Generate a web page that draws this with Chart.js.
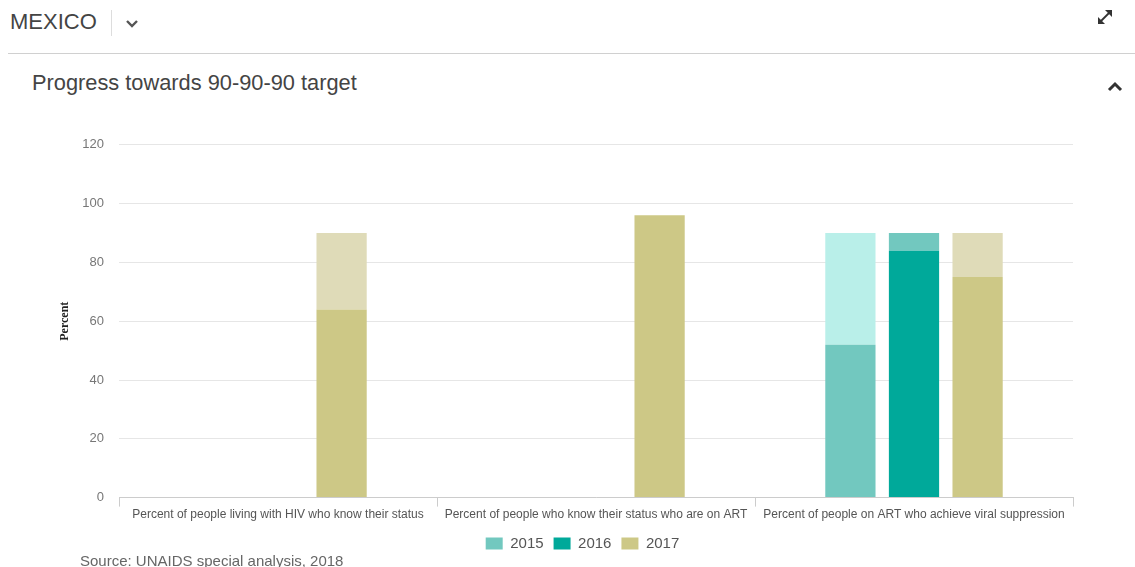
<!DOCTYPE html>
<html>
<head>
<meta charset="utf-8">
<script src="https://cdn.jsdelivr.net/npm/chart.js@4"></script>
<style>
  body { margin: 0; background: #fff; font-family: "Liberation Sans", Arial, sans-serif; width: 1135px; height: 567px; overflow: hidden; position: relative; }
  #country { position: absolute; left: 10px; top: 9px; font-size: 22px; color: #444; }
  #sep { position: absolute; left: 111px; top: 10px; width: 1px; height: 26px; background: #ddd; }
  #chev { position: absolute; left: 124px; top: 12px; }
  #hr { position: absolute; left: 8px; right: 0; top: 53px; height: 1px; background: #d0d0d0; }
  #title { position: absolute; left: 32px; top: 70px; font-size: 21.8px; color: #444; }
  #expand { position: absolute; left: 1095px; top: 7px; }
  #caret { position: absolute; left: 1106px; top: 79px; }
  #wrap { position: absolute; left: 0; top: 122px; width: 1110px; height: 440px; }
  #source { position: absolute; left: 80px; top: 552px; font-size: 15px; color: #666; }
</style>
</head>
<body>
<div id="country">MEXICO</div>
<div id="sep"></div>
<svg id="chev" width="16" height="20" viewBox="0 0 16 20"><path d="M3 9 L8 14 L13 9" fill="none" stroke="#555" stroke-width="2.4"/></svg>
<div id="hr"></div>
<div id="title">Progress towards 90-90-90 target</div>
<svg id="expand" width="20" height="20" viewBox="0 0 20 20">
  <path d="M6 14 L14 6" stroke="#333" stroke-width="1.8"/>
  <path d="M10 3 L17 3 L17 10 Z" fill="#333"/>
  <path d="M3 10 L3 17 L10 17 Z" fill="#333"/>
</svg>
<svg id="caret" width="18" height="16" viewBox="0 0 18 16"><path d="M3 11 L9 5 L15 11" fill="none" stroke="#333" stroke-width="3"/></svg>
<div id="wrap"><canvas id="chart"></canvas></div>
<div id="source">Source: UNAIDS special analysis, 2018</div>
<script>
const categories = [
  'Percent of people living with HIV who know their status',
  'Percent of people who know their status who are on ART',
  'Percent of people on ART who achieve viral suppression'
];
const years = ['2015', '2016', '2017'];
// achieved value per year, and remaining gap up to the 90 target
const values2015 = [null, null, 52];
const gap2015 = [null, null, 38];
const values2016 = [null, null, 84];
const gap2016 = [null, null, 6];
const values2017 = [64, 96, 75];
const gap2017 = [26, null, 15];

const mainColors = ['#72c8bf', '#00a99a', '#cdc886'];
const gapColors = ['#b9efe9', '#72c8bf', '#dfdbb8'];

const valueSets = [values2015, values2016, values2017];
const gapSets = [gap2015, gap2016, gap2017];

const datasets = [];
years.forEach((y, i) => {
  datasets.push({
    label: y,
    data: valueSets[i],
    backgroundColor: mainColors[i],
    stack: y,
    isGap: false
  });
  datasets.push({
    label: y + ' gap',
    data: gapSets[i],
    backgroundColor: gapColors[i],
    stack: y,
    isGap: true
  });
});

const ctx = document.getElementById('chart').getContext('2d');
new Chart(ctx, {
  type: 'bar',
  data: { labels: categories, datasets: datasets },
  options: {
    responsive: true,
    maintainAspectRatio: false,
    animation: false,
    categoryPercentage: 0.6,
    barPercentage: 0.79,
    layout: { padding: { left: 58, right: 3, top: 13, bottom: 1 } },
    scales: {
      x: {
        stacked: true,
        afterFit: (scale) => { scale.height += 3; },
        border: { color: '#ccc' },
        grid: {
          display: true,
          drawOnChartArea: false,
          color: '#ccc',
          tickLength: 9,
          offset: true
        },
        ticks: {
          color: '#555',
          font: { family: 'Liberation Sans', size: 12 },
          maxRotation: 0,
          autoSkip: false,
          padding: 1
        }
      },
      y: {
        stacked: true,
        min: 0,
        max: 120,
        afterFit: (scale) => { scale.width = 61; },
        border: { display: false },
        grid: { color: '#e6e6e6', drawTicks: false },
        ticks: {
          stepSize: 20,
          color: '#777',
          padding: 15,
          font: { family: 'Liberation Sans', size: 13 }
        },
        title: {
          display: true,
          text: 'Percent',
          color: '#222',
          font: { family: 'Liberation Serif', size: 12, weight: 'bold' },
          padding: { top: 0, bottom: 4 }
        }
      },
      // empty spacer on the right so the legend sits where the original does
      spacer: {
        type: 'linear',
        position: 'right',
        afterFit: (scale) => { scale.width = 34; },
        border: { display: false },
        grid: { display: false },
        ticks: { display: false }
      }
    },
    plugins: {
      legend: {
        position: 'bottom',
        labels: {
          filter: (item, data) => !data.datasets[item.datasetIndex].isGap,
          boxWidth: 17,
          boxHeight: 12,
          color: '#555',
          padding: 10,
          font: { family: 'Liberation Sans', size: 15 }
        }
      },
      tooltip: { enabled: false }
    }
  }
});
</script>
</body>
</html>
